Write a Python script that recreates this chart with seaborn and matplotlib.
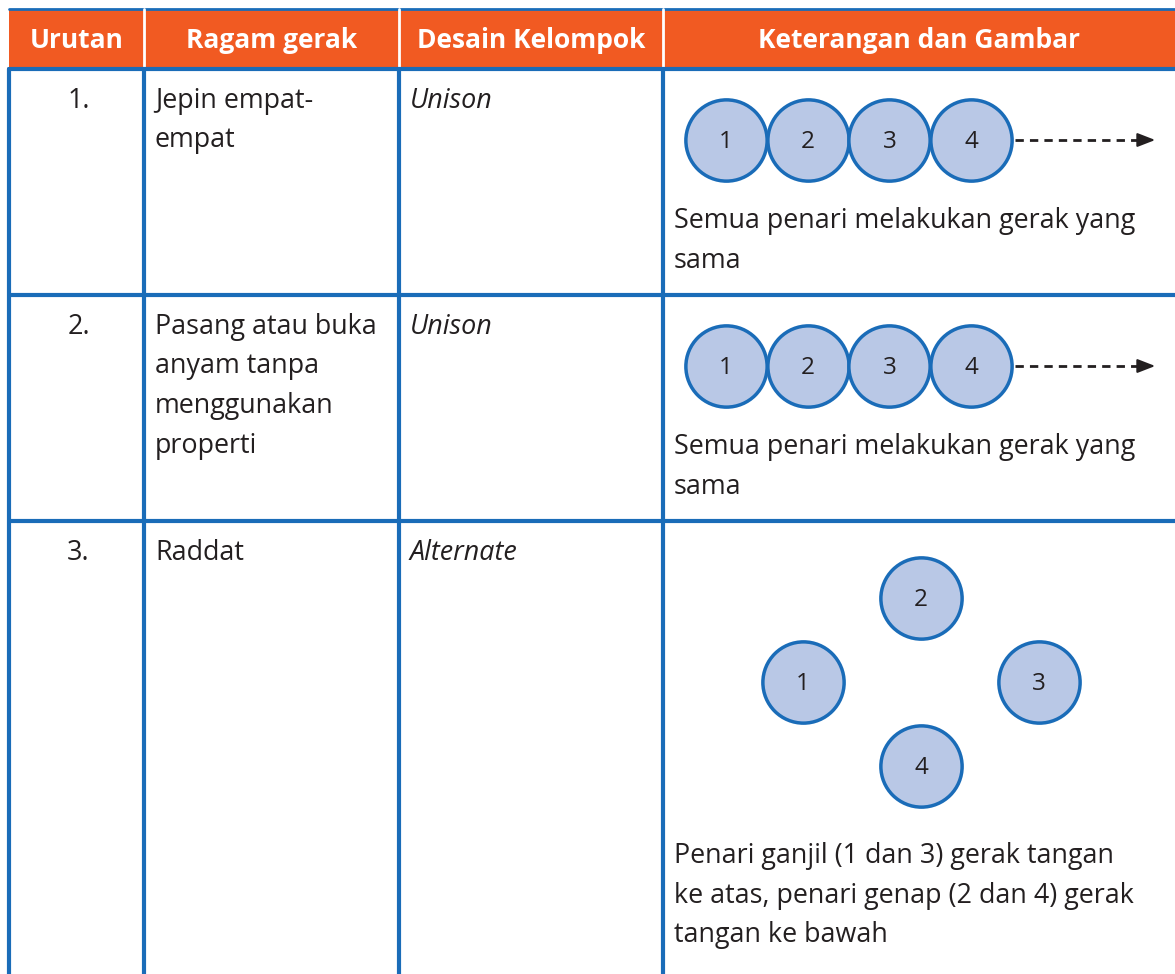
import matplotlib
matplotlib.use("Agg")
import matplotlib.pyplot as plt
import seaborn as sns
import pandas as pd
from matplotlib.patches import Rectangle

sns.set_theme(style="white")
plt.rcParams['font.family'] = ['Open Sans', 'Noto Sans', 'DejaVu Sans']

# ---- data ----
headers = ["Urutan", "Ragam gerak", "Desain Kelompok", "Keterangan dan Gambar"]
urutan = ["1.", "2.", "3."]
ragam = [["Jepin empat-", "empat"],
         ["Pasang atau buka", "anyam tanpa", "menggunakan", "properti"],
         ["Raddat"]]
desain = ["Unison", "Unison", "Alternate"]
keterangan = [
    ["Semua penari melakukan gerak yang", "sama"],
    ["Semua penari melakukan gerak yang", "sama"],
    ["Penari ganjil (1 dan 3) gerak tangan", "ke atas, penari genap (2 dan 4) gerak",
     "tangan ke bawah"],
]
dancers = ["1", "2", "3", "4"]
formation = ["line", "line", "diamond"]

# ---- layout (pixels) ----
W, H = 1175, 974
col_x = [9, 144, 399, 663, 1175]
head_top, head_bot = 9, 69
row_y = [69, 295, 521, 974]
line_h = 39.5
orange = "#F15A22"
blue = "#1A6CB8"
fill = "#B9C8E6"
text_c = "#231F20"
fs = 19.4

fig = plt.figure(figsize=(W / 100, H / 100), dpi=100)
ax = fig.add_axes([0, 0, 1, 1])
ax.set_xlim(0, W)
ax.set_ylim(H, 0)
ax.axis("off")

# header
ax.add_patch(Rectangle((col_x[0], head_top), W - col_x[0], head_bot - head_top,
                       facecolor=orange, edgecolor="none", zorder=1))
ax.plot([col_x[0], W], [head_top, head_top], color=blue, lw=2, zorder=2)
for i, h in enumerate(headers):
    cx = (col_x[i] + col_x[i + 1]) / 2
    ax.text(cx, 48, h, color="white", fontsize=19,
            fontweight="bold", ha="center", va="baseline", zorder=3)
for x in col_x[1:4]:
    ax.plot([x, x], [head_top, head_bot], color="white", lw=2, zorder=2)

# grid lines
for y in row_y[:3]:
    ax.plot([col_x[0], W], [y, y], color=blue, lw=3, zorder=2)
for x in col_x[:4]:
    ax.plot([x, x], [head_bot, H], color=blue, lw=3, zorder=2)

for r in range(3):
    base = row_y[r] + 39
    ax.text((col_x[0] + col_x[1]) / 2 + 2, base, urutan[r], fontsize=fs, color=text_c,
            ha="center", va="baseline")
    for k, ln in enumerate(ragam[r]):
        ax.text(col_x[1] + 11, base + k * line_h, ln, fontsize=fs, color=text_c,
                ha="left", va="baseline")
    ax.text(col_x[2] + 11, base, desain[r], fontsize=fs, color=text_c,
            ha="left", va="baseline", style="italic")

# dancer circles
circ_rows = []
for r, f in enumerate(formation):
    if f == "line":
        cy = row_y[r] + 71
        for k, d in enumerate(dancers):
            circ_rows.append(dict(x=726 + 81.7 * k, y=cy, label=d, row=r))
    else:
        cx0, cy0 = 921, row_y[r] + 161
        pos = {"1": (-118, 0), "2": (0, -84), "3": (118, 0), "4": (0, 84)}
        for d in dancers:
            dx, dy = pos[d]
            circ_rows.append(dict(x=cx0 + dx, y=cy0 + dy, label=d, row=r))
cdf = pd.DataFrame(circ_rows)
sns.scatterplot(data=cdf, x="x", y="y", s=58.5 ** 2, color=fill, edgecolor=blue,
                linewidth=2.5, ax=ax, zorder=4, legend=False)
for _, c in cdf.iterrows():
    ax.text(c.x, c.y + 8.5, c.label, fontsize=17.5, color=text_c, ha="center",
            va="baseline", zorder=5)

# arrows
for r, f in enumerate(formation):
    if f == "line":
        cy = row_y[r] + 71
        ax.plot([1015, 1141], [cy, cy], color=text_c, lw=2, ls=(0, (3.0, 2.2)), zorder=3)
        ax.annotate("", xy=(1158, cy), xytext=(1138, cy),
                    arrowprops=dict(arrowstyle="-|>,head_length=0.9,head_width=0.35",
                                    color=text_c, lw=1.5), zorder=3)

# descriptions
desc_base = [row_y[0] + 159, row_y[1] + 159, row_y[2] + 342]
for r in range(3):
    for k, ln in enumerate(keterangan[r]):
        ax.text(col_x[3] + 11, desc_base[r] + k * line_h, ln, fontsize=fs,
                color=text_c, ha="left", va="baseline")

fig.savefig("out.png", dpi=100, facecolor="white")
